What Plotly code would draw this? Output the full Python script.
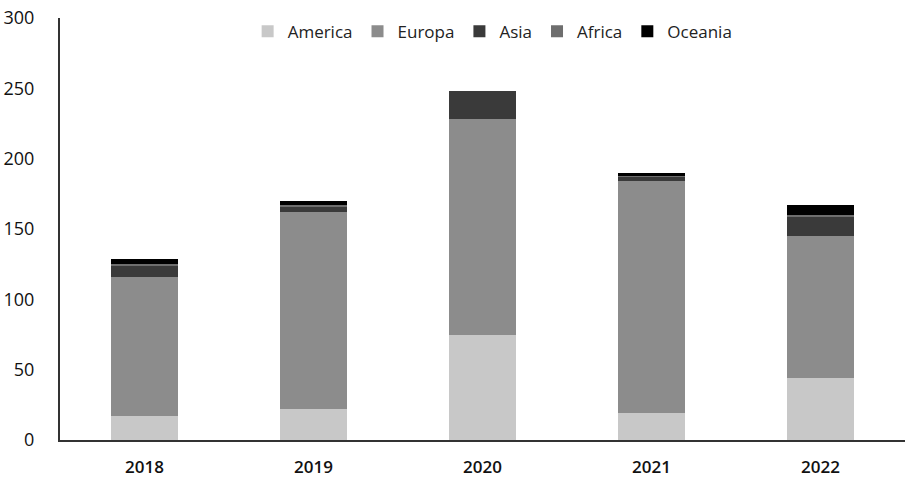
import plotly.graph_objects as go

years = ["2018", "2019", "2020", "2021", "2022"]
america = [17, 22, 75, 19, 44]
europa = [99, 140, 153, 165, 101]
asia = [8, 4, 20, 3, 14]
africa = [1, 1, 0, 0.5, 1]
oceania = [4, 3, 0, 2, 7]

series = [
    ("America", america, "#c8c8c8"),
    ("Europa", europa, "#8c8c8c"),
    ("Asia", asia, "#3a3a3a"),
    ("Africa", africa, "#6e6e6e"),
    ("Oceania", oceania, "#000000"),
]

fig = go.Figure()
for name, vals, col in series:
    fig.add_trace(go.Bar(x=years, y=vals, name=name, marker_color=col,
                         marker_line_width=0, width=0.4))

fig.update_layout(
    barmode="stack",
    width=905, height=479,
    margin=dict(l=60, r=0, t=18, b=39),
    plot_bgcolor="white", paper_bgcolor="white",
    font=dict(family="Open Sans", size=18, color="#111"),
    legend=dict(orientation="h", x=0.512, xanchor="center", y=1.01, yanchor="top",
                font=dict(size=17, color="#222"), traceorder="normal", itemwidth=30),
)
fig.update_yaxes(range=[0, 300], dtick=50, showgrid=False, showline=True,
                 linecolor="#333", linewidth=2, ticks="", ticklabelstandoff=20,
                 zeroline=False, automargin=False,
                 tickfont=dict(size=18, weight=500))
fig.update_xaxes(showline=True, linecolor="#333", linewidth=2, ticks="",
                 ticklabelstandoff=11, automargin=False,
                 tickfont=dict(size=17, weight=600))

fig.write_html("out.html")
